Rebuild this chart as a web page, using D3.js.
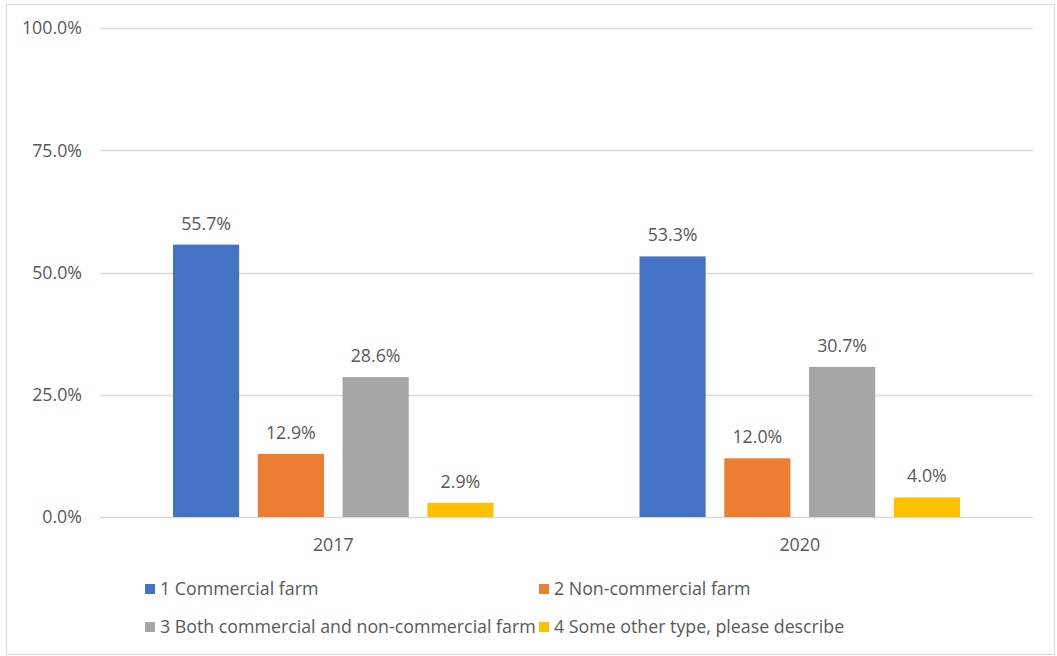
<!DOCTYPE html>
<html>
<head>
<meta charset="utf-8">
<script src="https://cdn.jsdelivr.net/npm/d3@7"></script>
<style>
  html, body { margin: 0; padding: 0; background: #fff; }
  svg { display: block; font-family: "Open Sans", Lato, sans-serif; }
</style>
</head>
<body>
<svg id="chart" width="1057" height="656"></svg>
<script>
// Farm type share by survey year
const years = ["2017", "2020"];
const seriesNames = [
  "1 Commercial farm",
  "2 Non-commercial farm",
  "3 Both commercial and non-commercial farm",
  "4 Some other type, please describe"
];
const values2017 = [55.7, 12.9, 28.6, 2.9];
const values2020 = [53.3, 12.0, 30.7, 4.0];
const yTicks = [0, 25, 50, 75, 100];
const colors = ["#4472c4", "#ed7d31", "#a5a5a5", "#ffc000"];

const valuesByYear = { "2017": values2017, "2020": values2020 };

const svg = d3.select("#chart");

// outer frame
svg.append("rect")
  .attr("x", 6.5).attr("y", 4.5)
  .attr("width", 1048).attr("height", 650)
  .attr("fill", "#fff").attr("stroke", "#d9d9d9").attr("stroke-width", 1);

const plot = { left: 100, right: 1033, top: 28, bottom: 517 };

const y = d3.scaleLinear().domain([0, 100]).range([plot.bottom, plot.top]);
const x0 = d3.scaleBand().domain(years).range([plot.left, plot.right]).padding(0);
const groupPad = 73;
const x1 = d3.scaleBand().domain(d3.range(seriesNames.length))
  .range([groupPad, x0.bandwidth() - groupPad]).paddingInner(0.22).paddingOuter(0);

const fontSize = 17.8;

// gridlines
svg.append("g").selectAll("line").data(yTicks).join("line")
  .attr("x1", plot.left).attr("x2", plot.right)
  .attr("y1", d => Math.round(y(d)) + 0.5).attr("y2", d => Math.round(y(d)) + 0.5)
  .attr("stroke", "#d9d9d9").attr("stroke-width", 1.3);

// y tick labels
svg.append("g").selectAll("text").data(yTicks).join("text")
  .attr("x", 82).attr("y", d => y(d))
  .attr("dy", "0.36em")
  .attr("text-anchor", "end")
  .attr("fill", "#595959").attr("font-size", fontSize)
  .text(d => d3.format(".1f")(d) + "%");

// bars and value labels
const groups = svg.append("g").selectAll("g").data(years).join("g")
  .attr("transform", d => `translate(${x0(d)},0)`);

groups.selectAll("rect")
  .data(yr => valuesByYear[yr].map((v, i) => ({ v, i })))
  .join("rect")
  .attr("x", d => x1(d.i))
  .attr("width", x1.bandwidth())
  .attr("y", d => y(d.v))
  .attr("height", d => y(0) - y(d.v))
  .attr("fill", d => colors[d.i]);

groups.selectAll("text")
  .data(yr => valuesByYear[yr].map((v, i) => ({ v, i })))
  .join("text")
  .attr("x", d => x1(d.i) + x1.bandwidth() / 2)
  .attr("y", d => y(d.v) - 15)
  .attr("text-anchor", "middle")
  .attr("fill", "#595959").attr("font-size", fontSize)
  .text(d => d3.format(".1f")(d.v) + "%");

// x category labels
svg.append("g").selectAll("text").data(years).join("text")
  .attr("x", d => x0(d) + x0.bandwidth() / 2)
  .attr("y", 551)
  .attr("text-anchor", "middle")
  .attr("fill", "#595959").attr("font-size", fontSize)
  .text(d => d);

// legend, two columns by two rows
const legendPos = [
  { x: 145, y: 589 }, { x: 539, y: 589 },
  { x: 145, y: 627 }, { x: 539, y: 627 }
];
const legend = svg.append("g").selectAll("g").data(seriesNames).join("g")
  .attr("transform", (d, i) => `translate(${legendPos[i].x},${legendPos[i].y})`);
legend.append("rect")
  .attr("x", 0).attr("y", -5).attr("width", 10).attr("height", 10)
  .attr("fill", (d, i) => colors[i]);
legend.append("text")
  .attr("x", 15).attr("y", 0).attr("dy", "0.36em")
  .attr("fill", "#595959").attr("font-size", fontSize)
  .text(d => d);
</script>
</body>
</html>
